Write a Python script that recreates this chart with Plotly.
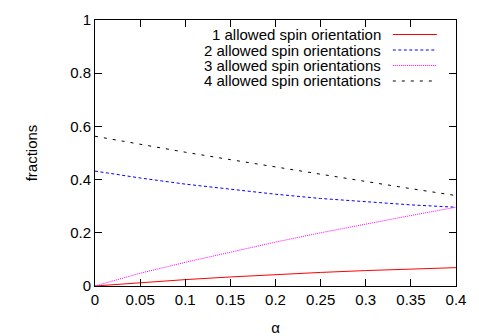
import plotly.graph_objects as go

# alpha values and the four fractions
alpha = [0, 0.05, 0.1, 0.15, 0.2, 0.25, 0.3, 0.35, 0.4]
one_orient = [0, 0.013, 0.024, 0.034, 0.043, 0.051, 0.058, 0.064, 0.069]
two_orient = [0.432, 0.406, 0.383, 0.363, 0.345, 0.329, 0.316, 0.305, 0.296]
three_orient = [0, 0.048, 0.089, 0.128, 0.165, 0.2, 0.233, 0.265, 0.296]
four_orient = [0.563, 0.532, 0.503, 0.475, 0.447, 0.42, 0.393, 0.366, 0.34]

names = ["1 allowed spin orientation", "2 allowed spin orientations",
         "3 allowed spin orientations", "4 allowed spin orientations"]
colors = ["#ff0000", "#0000ff", "#ff00ff", "#000000"]
dashes = ["solid", "3px,2.5px", "1px,1px", "3px,6px"]
series = [one_orient, two_orient, three_orient, four_orient]

font = "Liberation Sans, Arial, sans-serif"

fig = go.Figure()
for name, ys, c, d in zip(names, series, colors, dashes):
    fig.add_trace(go.Scatter(x=alpha, y=ys, mode="lines", name=name,
                             line=dict(color=c, width=1, dash=d), showlegend=False))

# gnuplot-style key: text right-aligned, line sample to the right
row_y = [0.9455, 0.8872, 0.8289, 0.7707]
for name, c, d, yy in zip(names, colors, dashes, row_y):
    fig.add_annotation(x=0.798, y=yy, xref="paper", yref="paper", text=name,
                       showarrow=False, xanchor="right", yanchor="middle",
                       font=dict(family=font, size=15, color="black"))
    fig.add_shape(type="line", xref="paper", yref="paper", x0=0.825, x1=0.947,
                  y0=yy, y1=yy, line=dict(color=c, width=1, dash=d))

axis_style = dict(showline=True, linecolor="black", linewidth=1, mirror="ticks",
                  ticks="inside", ticklen=7, tickcolor="black", showgrid=False,
                  zeroline=False, automargin=False,
                  tickfont=dict(family=font, size=15, color="black"))

fig.update_xaxes(range=[0, 0.4], dtick=0.05, tick0=0,
                 title=dict(text="α", font=dict(family=font, size=15, color="black"), standoff=15),
                 **axis_style)
fig.update_yaxes(range=[0, 1], dtick=0.2, tick0=0,
                 title=dict(text="fractions", font=dict(family=font, size=15, color="black"), standoff=28),
                 **axis_style)

# the page body adds an 8px margin, so the figure is sized/offset to compensate
fig.update_layout(width=471, height=328, plot_bgcolor="white", paper_bgcolor="white",
                  margin=dict(l=87, r=23, t=12, b=50), font=dict(family=font, size=15))

fig.write_html("out.html")
